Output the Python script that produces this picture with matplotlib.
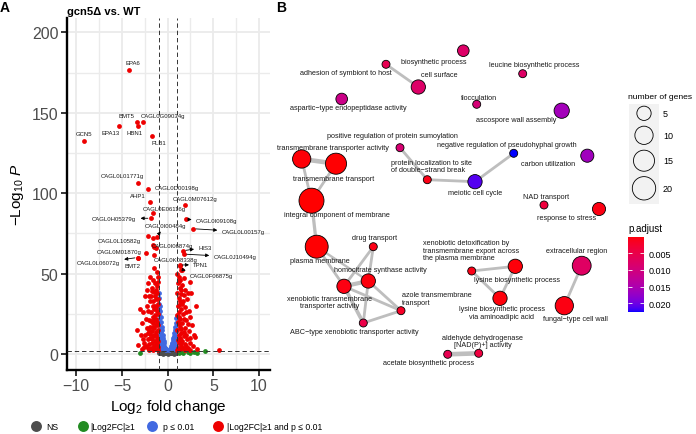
import numpy as np
import matplotlib
matplotlib.use("Agg")
import matplotlib.pyplot as plt
from matplotlib.colors import LinearSegmentedColormap, Normalize
from matplotlib.patches import Rectangle

plt.rcParams['font.family'] = ['Liberation Sans', 'DejaVu Sans']
plt.rcParams['mathtext.fontset'] = 'custom'
plt.rcParams['mathtext.rm'] = 'Liberation Sans'
plt.rcParams['mathtext.it'] = 'Liberation Sans:italic'
plt.rcParams['mathtext.bf'] = 'Liberation Sans:bold'

# ---------------- Panel A data (volcano) ----------------
ns_xy = [(-0.95, 0.4), (-0.9, 1.5), (-0.85, 0.9), (-0.8, 1.8), (-0.75, 0.3), (-0.7, 1.2),
         (-0.65, 0.7), (-0.6, 1.6), (-0.55, 0.2), (-0.5, 1.0), (-0.45, 1.9), (-0.4, 0.5),
         (-0.35, 1.3), (-0.3, 0.8), (-0.25, 1.7), (-0.2, 0.3), (-0.15, 1.1), (-0.1, 0.6),
         (-0.05, 1.5), (0.0, 0.2), (0.05, 1.0), (0.1, 1.8), (0.15, 0.5), (0.2, 1.3),
         (0.25, 0.8), (0.3, 1.6), (0.35, 0.3), (0.4, 1.1), (0.45, 0.6), (0.5, 1.9),
         (0.55, 0.4), (0.6, 1.4), (0.65, 0.9), (0.7, 1.7), (0.75, 0.2), (0.8, 1.2),
         (0.85, 0.7), (0.9, 1.5), (0.95, 0.4)]

green_xy = [(-3.0, 0.6), (1.25, 0.9), (1.45, 1.3), (1.7, 0.7), (2.2, 1.2), (2.4, 0.5),
            (2.9, 1.4), (3.2, 0.8), (4.1, 1.9)]

blue_xy = [(-0.97, 38), (-0.93, 35), (-0.95, 31), (-0.88, 30), (-0.82, 27), (-0.9, 25),
           (-0.78, 23), (-0.72, 20), (-0.85, 19), (-0.66, 17), (-0.62, 15), (-0.75, 13.5),
           (-0.56, 12), (-0.5, 10), (-0.62, 9), (-0.45, 8), (-0.4, 7), (-0.52, 6),
           (-0.35, 5), (-0.3, 4), (-0.25, 3.5), (-0.92, 22), (-0.96, 28), (-0.86, 15.5),
           (-0.8, 10.5), (-0.68, 7), (-0.56, 4), (-0.2, 2.8), (-0.15, 2.4), (-0.45, 3),
           (-0.95, 12), (-0.9, 8), (-0.85, 5), (-0.75, 3.5),
           (0.88, 22.5), (0.92, 19), (0.82, 17), (0.76, 15), (0.7, 13), (0.65, 11),
           (0.6, 10), (0.55, 8.5), (0.5, 7), (0.45, 6), (0.4, 5), (0.35, 4),
           (0.3, 3.3), (0.25, 2.8), (0.92, 14), (0.84, 10), (0.72, 7), (0.62, 5),
           (0.52, 3.5), (0.15, 2.3), (0.95, 8), (0.9, 5), (0.78, 3), (0.95, 11)]

red_xy = [(-1.05, 48), (-1.1, 45), (-1.2, 42), (-1.3, 40), (-1.15, 38), (-1.4, 36),
          (-1.25, 34), (-1.6, 33), (-1.1, 31), (-1.35, 30), (-1.5, 28), (-1.2, 27),
          (-1.8, 26), (-1.05, 25), (-1.4, 24), (-1.65, 23), (-1.3, 22), (-2.0, 21),
          (-1.15, 20), (-1.55, 19), (-1.25, 18), (-1.9, 17), (-1.45, 16), (-2.3, 16),
          (-1.1, 15), (-1.7, 14), (-2.1, 13), (-1.3, 12), (-2.5, 12), (-1.6, 11),
          (-1.2, 10), (-1.9, 10), (-2.2, 9), (-1.4, 8), (-1.05, 8), (-2.6, 7),
          (-1.75, 7), (-1.3, 6), (-2.0, 6), (-2.4, 5), (-1.5, 5), (-1.1, 4.5),
          (-3.2, 5.6), (-1.8, 4), (-2.2, 3.5), (-1.3, 3), (-1.6, 2.6), (-2.8, 3),
          (-1.05, 2.4), (-2.0, 2.3), (-3.0, 28), (-2.7, 26), (-3.3, 15), (-2.8, 19),
          (-2.9, 12), (-1.9, 48), (-1.6, 46), (-2.2, 44), (-2.5, 36), (-2.3, 30),
          (-1.46, 53.5), (-2.1, 73.3), (-1.64, 71.9), (-1.53, 61.5), (-1.3, 66),
          (-1.75, 39), (-1.95, 33), (-1.15, 51),
          (-1.35, 44), (-1.7, 41), (-1.5, 38.5), (-2.0, 36), (-1.25, 29), (-1.65, 30),
          (-2.1, 26.5), (-1.45, 21), (-1.85, 20.5), (-2.4, 22), (-1.05, 18), (-1.6, 16.5),
          (-2.0, 15), (-1.25, 13.5), (-1.45, 11.5), (-1.75, 9), (-2.7, 9.5), (-1.15, 6.5),
          (-1.55, 3.8), (-2.55, 4.2), (-1.9, 12.5), (-1.05, 34), (-1.8, 36), (-2.3, 40),
          (1.05, 50), (1.2, 48), (1.4, 46), (1.1, 44), (1.6, 43), (1.3, 41),
          (1.9, 40), (1.05, 38), (1.5, 37), (1.2, 35), (2.1, 34), (1.7, 33),
          (1.35, 31), (1.1, 30), (1.9, 29), (1.5, 28), (2.3, 27), (1.2, 26),
          (1.7, 25), (1.05, 24), (2.5, 23), (1.4, 22), (2.0, 21), (1.15, 20),
          (1.6, 19), (2.7, 18), (1.3, 17), (1.9, 16), (1.05, 15), (2.3, 14),
          (1.5, 13), (1.2, 12), (2.9, 12), (1.8, 11), (1.35, 10), (3.0, 10.4),
          (2.1, 9), (1.1, 8.5), (1.6, 8), (2.5, 7), (1.25, 6.5), (1.9, 6),
          (2.8, 5), (1.45, 5), (1.1, 4), (2.2, 4), (1.7, 3.5), (3.2, 3.2),
          (1.3, 3), (2.5, 2.6), (1.05, 2.5), (1.9, 2.3), (5.6, 2.7),
          (2.4, 45), (2.6, 38), (1.8, 47), (3.1, 30), (1.5, 52),
          (1.25, 45.5), (1.45, 40), (1.75, 36.5), (2.2, 38), (1.3, 33), (1.6, 31),
          (2.0, 26), (1.25, 23), (1.8, 21.5), (2.2, 18.5), (1.45, 15.5), (1.75, 13.5),
          (2.05, 11.5), (1.3, 9), (2.4, 10), (1.5, 6.8), (2.0, 4.8), (1.2, 18.5)]

label_genes = ["EPA6", "BMT5", "CAGL0G09034g", "EPA13", "HBN1", "PLB1", "GCN5",
               "CAGL0L01771g", "CAGL0D00198g", "AHP1", "CAGL0M07612g", "CAGL0E06116g",
               "CAGL0H05379g", "CAGL0I09108g", "CAGL0I00484g", "CAGL0L00157g",
               "CAGL0L10582g", "CAGL0I06874g", "HIS3", "CAGL0M01870g", "CAGL0J10494g",
               "CAGL0L06072g", "BMT2", "CAGL0K08338g", "TPN1", "CAGL0F06875g"]
label_fc = [-4.2, -3.36, -2.67, -5.36, -3.28, -1.75, -9.18,
            -3.21, -2.15, -1.9, 1.89, -1.6,
            -1.86, 2.0, -1.2, 2.8,
            -1.64, -1.45, 1.7, -2.4, 1.8,
            -3.28, -3.2, 1.34, 1.3, 1.53]
label_p = [176.7, 144.6, 144.4, 142.1, 142.1, 135.8, 132.7,
           106.3, 102.5, 94.6, 92.5, 87.9,
           84.4, 83.7, 72.9, 77.9,
           67.7, 66.5, 64.2, 63.1, 62.1,
           60.0, 59.5, 54.6, 55.3, 52.5]

# label text placement (layout)
label_pos = [(-3.76, 181.4), (-4.56, 148.5), (-0.48, 148.5), (-6.2, 137.7), (-3.57, 137.7),
             (-0.92, 131.4), (-9.15, 136.9),
             (-4.96, 110.8), (0.98, 103.75), (-3.21, 98.5), (2.98, 96.9), (-0.37, 90.2),
             (-5.84, 84.4), (5.36, 83.3), (-0.22, 80.2), (8.26, 76.0),
             (-5.29, 70.8), (0.55, 67.7), (4.08, 66.25), (-5.29, 63.5), (7.36, 60.4),
             (-7.58, 56.7), (-3.83, 55.2), (0.9, 58.9), (3.64, 55.6), (4.81, 48.5)]
label_arrow = [False, False, False, False, False, False, False,
               False, False, False, False, False,
               True, True, True, True,
               False, False, True, False, True,
               True, False, False, True, True]

# ---------------- Panel B data (enrichment map) ----------------
go_terms = ["biosynthetic process", "adhesion of symbiont to host", "cell surface",
            "aspartic\u2212type endopeptidase activity", "flocculation",
            "leucine biosynthetic process", "ascospore wall assembly",
            "positive regulation of protein sumoylation", "transmembrane transporter activity",
            "transmembrane transport", "integral component of membrane",
            "protein localization to site\nof double\u2212strand break", "meiotic cell cycle",
            "negative regulation of pseudohyphal growth", "carbon utilization",
            "NAD transport", "response to stress", "extracellular region",
            "fungal\u2212type cell wall", "lysine biosynthetic process",
            "lysine biosynthetic process\nvia aminoadipic acid",
            "xenobiotic detoxification by\ntransmembrane export across\nthe plasma membrane",
            "plasma membrane", "drug transport", "homocitrate synthase activity",
            "xenobiotic transmembrane\ntransporter activity", "azole transmembrane\ntransport",
            "ABC\u2212type xenobiotic transporter activity", "acetate biosynthetic process",
            "aldehyde dehydrogenase\n[NAD(P)+] activity"]
node_x = [463.3, 386.0, 418.3, 341.7, 476.7, 522.7, 561.7, 400.0, 301.7, 336.0,
          311.5, 427.3, 475.0, 513.7, 587.3, 544.0, 599.0, 581.7, 564.3, 515.3,
          500.0, 471.7, 316.7, 373.3, 368.3, 344.0, 401.0, 363.3, 447.7, 478.7]
node_y = [51.7, 65.3, 88.0, 100.0, 105.3, 74.7, 111.7, 148.7, 160.0, 164.7,
          201.7, 180.7, 182.7, 154.3, 156.7, 206.0, 210.0, 266.7, 306.7, 267.3,
          299.3, 272.0, 247.7, 247.7, 282.0, 287.3, 311.7, 324.0, 355.3, 354.3]
gene_counts = [3, 2, 5, 3, 2, 2, 6, 2, 10, 15,
               24, 2, 5, 2, 4, 2, 4, 11, 10, 5,
               5, 2, 19, 2, 5, 5, 2, 2, 2, 2]
p_adjust = [0.0080, 0.0060, 0.0080, 0.0112, 0.0095, 0.0078, 0.0162, 0.0090, 0.0003, 0.0002,
            0.00003, 0.0010, 0.0212, 0.0227, 0.0165, 0.0040, 0.0008, 0.0075, 0.0008, 0.0004,
            0.0004, 0.0010, 0.0002, 0.0010, 0.0005, 0.0008, 0.0020, 0.0050, 0.0058, 0.0042]
edge_from = [1, 8, 8, 9, 10, 22, 22, 23, 23, 24, 24, 24, 25, 25, 27, 7, 11, 12, 21, 21, 19, 17, 28]
edge_to = [2, 9, 10, 10, 22, 25, 24, 25, 24, 25, 26, 27, 27, 26, 26, 11, 12, 13, 19, 20, 20, 18, 29]
edge_sim = [0.4, 0.8, 0.4, 0.4, 0.5, 0.4, 0.3, 0.4, 0.4, 0.7, 0.4, 0.4, 0.6, 0.4, 0.4,
            0.4, 0.4, 0.4, 0.4, 0.4, 0.4, 0.4, 0.8]

# label placement for panel B (layout): x, y, alignment
go_label_x = [434.0, 345.7, 439.0, 348.7, 479.3, 534.5, 516.0, 392.3, 332.8, 334.0,
              336.5, 390.7, 475.0, 507.0, 547.8, 545.7, 566.7, 576.7, 575.8, 516.7,
              501.7, 422.7, 320.3, 374.3, 380.0, 329.2, 401.7, 354.2, 429.0, 482.5]
go_label_y = [62.0, 73.7, 75.3, 108.3, 98.7, 65.7, 120.3, 136.7, 148.3, 179.3,
              216.0, 167.2, 194.0, 145.7, 165.0, 197.3, 219.0, 251.3, 320.0, 281.0,
              313.5, 251.3, 261.7, 238.3, 270.7, 303.0, 299.3, 332.3, 364.0, 341.8]
go_label_ha = ['center'] * 30
for i in (11, 21, 26):
    go_label_ha[i] = 'left'

# ---------------- styling ----------------
W, H = 696, 435
fig = plt.figure(figsize=(W / 100, H / 100), dpi=100)

col_ns, col_fc, col_p, col_both = '#4D4D4D', '#228B22', '#4169E1', '#EE0000'

ax = fig.add_axes([66.7 / W, 1 - 370.7 / H, (269.5 - 66.7) / W, (370.7 - 19) / H])
ax.set_xlim(-11.05, 11.15)
ax.set_ylim(-9.8, 209)
ax.set_xticks([-10, -5, 0, 5, 10])
ax.set_xticks([-7.5, -2.5, 2.5, 7.5], minor=True)
ax.set_yticks([0, 50, 100, 150, 200])
ax.set_yticks([25, 75, 125, 175], minor=True)
ax.grid(which='major', color='#EBEBEB', lw=1.3)
ax.grid(which='minor', color='#EBEBEB', lw=1.0)
ax.set_axisbelow(True)
for s in ('top', 'right'):
    ax.spines[s].set_visible(False)
for s in ('left', 'bottom'):
    ax.spines[s].set_linewidth(1.7)
    ax.spines[s].set_color('black')
ax.tick_params(which='major', length=4, width=1.1, color='black', labelcolor='#4D4D4D',
               labelsize=11.5, pad=2)
ax.tick_params(which='minor', length=0)

pt_s = 12
for pts, c in ((ns_xy, col_ns), (green_xy, col_fc), (blue_xy, col_p), (red_xy, col_both)):
    arr = np.array(pts)
    ax.scatter(arr[:, 0], arr[:, 1], s=pt_s, c=c, linewidths=0, zorder=2)
ax.scatter(label_fc, label_p, s=pt_s, c=col_both, linewidths=0, zorder=2)

dash = (0, (4.5, 3))
ax.axvline(-1, color='#333333', lw=0.7, ls=dash, zorder=3)
ax.axvline(1, color='#333333', lw=0.7, ls=dash, zorder=3)
ax.axhline(2, color='#333333', lw=0.7, ls=dash, zorder=3)

for name, x, y, (tx, ty), arr in zip(label_genes, label_fc, label_p, label_pos, label_arrow):
    if arr:
        ax.annotate(name, xy=(x, y), xytext=(tx, ty), ha='center', va='center',
                    fontsize=4.3, color='#1a1a1a', zorder=4,
                    arrowprops=dict(arrowstyle='<|-', color='black', lw=0.6,
                                    mutation_scale=5, shrinkA=1, shrinkB=2))
    else:
        ax.text(tx, ty, name, ha='center', va='center', fontsize=4.3, color='#1a1a1a', zorder=4)

ax.set_xlabel(r'$\mathrm{Log}_{2}$ fold change', fontsize=11, labelpad=3)
ax.set_ylabel(r'$-\mathrm{Log}_{10}\ \mathit{P}$', fontsize=11, labelpad=4)

fig.text(66.7 / W, 1 - 12 / H, 'gcn5\u0394 vs. WT', fontweight='bold', fontsize=8,
         ha='left', va='center')
fig.text(5 / W, 1 - 7.5 / H, 'A', fontweight='bold', fontsize=10, ha='center', va='center')
fig.text(281 / W, 1 - 7.5 / H, 'B', fontweight='bold', fontsize=10, ha='center', va='center')

# overlay in pixel coordinates (panel B + legends)
ov = fig.add_axes([0, 0, 1, 1])
ov.set_xlim(0, W)
ov.set_ylim(H, 0)
ov.axis('off')
ov.patch.set_alpha(0)

# volcano legend
leg_x = [36, 82.7, 151.7, 218.3]
leg_tx = [46.7, 90, 162.7, 226.7]
leg_labels = ['NS', '|Log2FC|\u22651', 'p \u2264 0.01', '|Log2FC|\u22651 and p \u2264 0.01']
for lx, tx, c, lab in zip(leg_x, leg_tx, (col_ns, col_fc, col_p, col_both), leg_labels):
    ov.scatter([lx], [427.3], s=62, c=c, linewidths=0)
    ov.text(tx, 427.3, lab, fontsize=6.2, ha='left', va='center', color='black')


# colormap: Lab interpolation red -> blue (ggplot-like)
def srgb_to_lab(rgb):
    rgb = np.asarray(rgb, float)
    lin = np.where(rgb <= 0.04045, rgb / 12.92, ((rgb + 0.055) / 1.055) ** 2.4)
    M = np.array([[0.4124, 0.3576, 0.1805], [0.2126, 0.7152, 0.0722], [0.0193, 0.1192, 0.9505]])
    xyz = M @ lin / np.array([0.95047, 1.0, 1.08883])
    f = np.where(xyz > 0.008856, np.cbrt(xyz), 7.787 * xyz + 16 / 116)
    return np.array([116 * f[1] - 16, 500 * (f[0] - f[1]), 200 * (f[1] - f[2])])


def lab_to_srgb(lab):
    L, a, b = lab
    fy = (L + 16) / 116
    fx = fy + a / 500
    fz = fy - b / 200
    f = np.array([fx, fy, fz])
    xyz = np.where(f ** 3 > 0.008856, f ** 3, (f - 16 / 116) / 7.787)
    xyz = xyz * np.array([0.95047, 1.0, 1.08883])
    Minv = np.array([[3.2406, -1.5372, -0.4986], [-0.9689, 1.8758, 0.0415], [0.0557, -0.2040, 1.0570]])
    lin = Minv @ xyz
    lin = np.clip(lin, 0, 1)
    rgb = np.where(lin <= 0.0031308, 12.92 * lin, 1.055 * lin ** (1 / 2.4) - 0.055)
    return np.clip(rgb, 0, 1)


lab_r = srgb_to_lab([1, 0, 0])
lab_b = srgb_to_lab([0, 0, 1])
cols = [lab_to_srgb(lab_r + (lab_b - lab_r) * t) for t in np.linspace(0, 1, 256)]
cmap = LinearSegmentedColormap.from_list('rb', cols)
vmin, vmax = min(p_adjust), max(p_adjust)
norm = Normalize(vmin, vmax)


def diam_px(n):
    return 8 + 17 * np.sqrt((np.asarray(n, float) - 2) / 22)


# edges
for i, j, sim in zip(edge_from, edge_to, edge_sim):
    ov.plot([node_x[i], node_x[j]], [node_y[i], node_y[j]], color='#BEBEBE',
            lw=(1.0 + 4.5 * sim) * 0.72, solid_capstyle='butt', zorder=1)
# nodes
sizes = (diam_px(gene_counts) * 0.72) ** 2
ov.scatter(node_x, node_y, s=sizes, c=p_adjust, cmap=cmap, norm=norm,
           edgecolors='black', linewidths=0.6, zorder=2)
for lab, x, y, ha in zip(go_terms, go_label_x, go_label_y, go_label_ha):
    ov.text(x, y, lab, fontsize=5.2, ha=ha, va='center', multialignment=ha,
            color='#1a1a1a', zorder=3, linespacing=1.1)

# size legend
ov.text(628, 97.3, 'number of genes', fontsize=6.1, ha='left', va='center')
ov.add_patch(Rectangle((629.3, 105), 30, 100, facecolor='#F2F2F2', edgecolor='none', zorder=1))
leg_counts = [5, 10, 15, 20]
leg_y = [114.3, 136.3, 161.7, 189.3]
ov.scatter([644] * 4, leg_y, s=(diam_px(leg_counts) * 0.72) ** 2, facecolors='none',
           edgecolors='black', linewidths=0.6, zorder=2)
for n, y in zip(leg_counts, leg_y):
    ov.text(663, y, str(n), fontsize=6.5, ha='left', va='center')

# colorbar
ov.text(628, 229.3, 'p.adjust', fontsize=7, ha='left', va='center')
cax = fig.add_axes([628.3 / W, 1 - 313.3 / H, 15.7 / W, 75.6 / H])
grad = np.linspace(vmin, vmax, 256).reshape(-1, 1)
cax.imshow(grad, aspect='auto', cmap=cmap, norm=norm, extent=[0, 1, vmax, vmin])
cax.set_xticks([])
cax.set_yticks([0.005, 0.010, 0.015, 0.020])
cax.set_yticklabels(['0.005', '0.010', '0.015', '0.020'])
cax.yaxis.tick_right()
cax.tick_params(axis='y', direction='in', color='white', length=3, width=0.6,
                left=True, right=True, labelsize=6.5, pad=3)
for s in cax.spines.values():
    s.set_visible(False)

fig.savefig('out.png', dpi=100)
